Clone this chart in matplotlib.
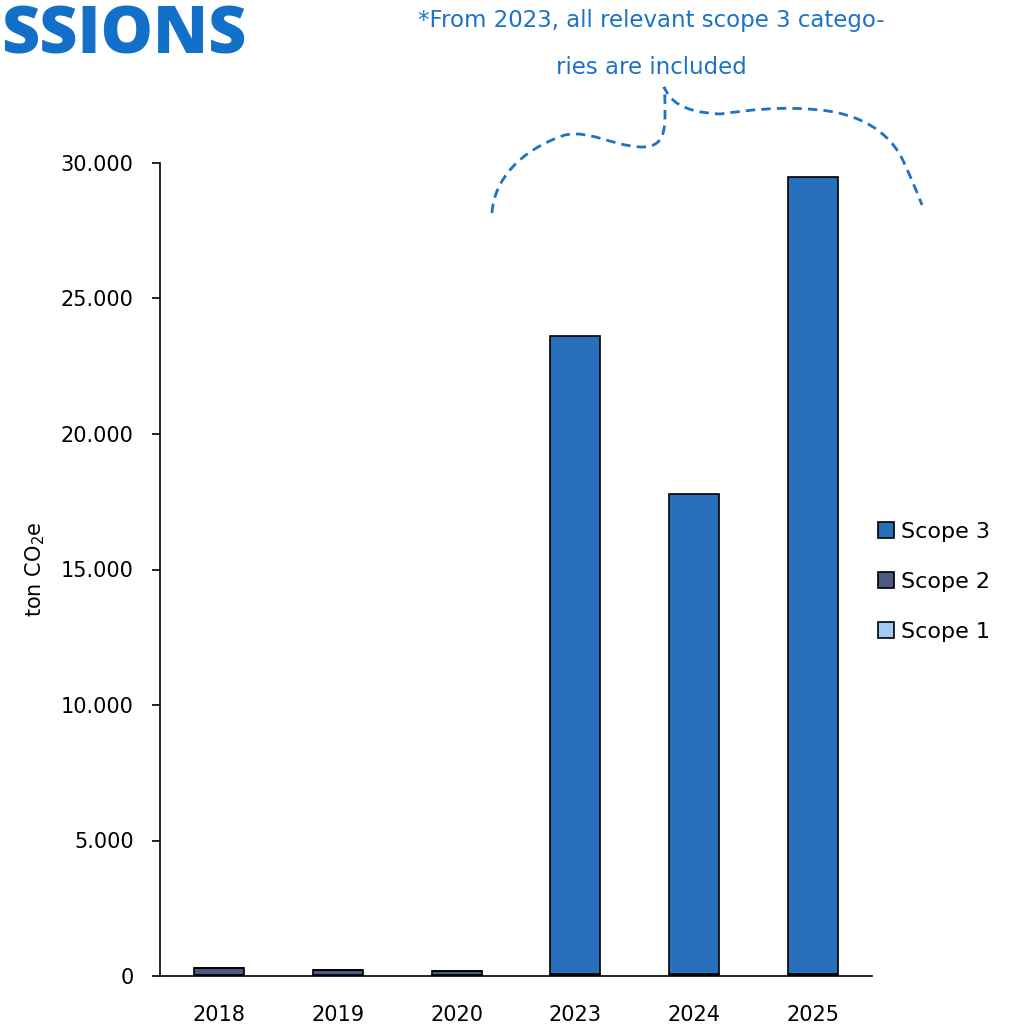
import matplotlib
matplotlib.use("Agg")
import matplotlib.pyplot as plt
from matplotlib.path import Path
from matplotlib.patches import PathPatch
from matplotlib.ticker import FuncFormatter
import numpy as np

plt.rcParams['font.family'] = ['DejaVu Sans']

# Emissions per year, tonnes CO2e
years = ["2018", "2019", "2020", "2023", "2024", "2025"]
scope1 = [40, 30, 20, 30, 30, 30]
scope2 = [240, 190, 150, 60, 60, 60]
scope3 = [0, 0, 0, 23510, 17710, 29410]

colors = {"Scope 1": "#9FCBF5", "Scope 2": "#4A5A80", "Scope 3": "#2870BB"}
accent = "#1A73C8"

W, H = 1014, 1026
fig = plt.figure(figsize=(W / 100, H / 100), dpi=100)
ax = fig.add_axes([160 / W, 1 - 976 / H, (872 - 160) / W, (976 - 163) / H])

x = np.arange(len(years))
bw = 0.42
s1 = np.array(scope1)
s2 = np.array(scope2)
s3 = np.array(scope3)
ax.bar(x, s1, bw, color=colors["Scope 1"], edgecolor="black", linewidth=1.2, label="Scope 1", zorder=3)
ax.bar(x, s2, bw, bottom=s1, color=colors["Scope 2"], edgecolor="black", linewidth=1.2, label="Scope 2", zorder=3)
ax.bar(x, s3, bw, bottom=s1 + s2, color=colors["Scope 3"], edgecolor="black", linewidth=1.2, label="Scope 3", zorder=3)

ax.set_xlim(-0.5, len(years) - 0.5)
ax.set_ylim(0, 30000)
ax.set_yticks(np.arange(0, 30001, 5000))
ax.yaxis.set_major_formatter(FuncFormatter(lambda v, p: f"{int(v):,}".replace(",", ".")))
ax.set_xticks(x)
ax.set_xticklabels(years)

for side in ("top", "right"):
    ax.spines[side].set_visible(False)
for side in ("left", "bottom"):
    ax.spines[side].set_color("black")
    ax.spines[side].set_linewidth(1.2)
ax.tick_params(axis="y", direction="out", length=6, width=1.2, pad=13, labelsize=15)
ax.tick_params(axis="x", length=0, pad=21, labelsize=15)

ax.set_ylabel(r"ton CO$\mathregular{_2}$e", fontsize=15, labelpad=10)

handles, labels = ax.get_legend_handles_labels()
fig.legend(handles[::-1], labels[::-1], loc="center left", bbox_to_anchor=(867 / W, 1 - 582 / H),
           frameon=False, fontsize=16, handlelength=0.72, handleheight=0.72,
           handletextpad=0.3, labelspacing=1.35, borderpad=0)

# Heading fragment and footnote
fig.text(1 / W, 1 - 36 / H, "SSIONS", fontsize=47.5, fontweight="heavy", color="#1270C8",
         ha="left", va="center", family=["Open Sans", "DejaVu Sans"])
fig.text(651 / W, 1 - 20 / H, "*From 2023, all relevant scope 3 catego-", fontsize=16.5,
         color=accent, ha="center", va="center")
fig.text(651 / W, 1 - 68 / H, "ries are included", fontsize=16.5, color=accent,
         ha="center", va="center")

# Dashed brace over the later years
pts = [
    (492, 213),
    (494, 180), (520, 150), (565, 135),
    (590, 130), (610, 145), (640, 147),
    (665, 148), (665, 130), (665, 110),
    (665, 100), (665, 92), (664, 87),
    (670, 100), (680, 112), (720, 114),
    (750, 110), (780, 106), (820, 110),
    (870, 115), (895, 140), (905, 165),
    (912, 180), (917, 192), (922, 205),
]
verts = [(px / W, 1 - py / H) for px, py in pts]
codes = [Path.MOVETO] + [Path.CURVE4] * (len(verts) - 1)
brace = PathPatch(Path(verts, codes), transform=fig.transFigure, fill=False,
                  edgecolor=accent, linewidth=2.0, linestyle=(0, (3.4, 2.2)))
fig.add_artist(brace)

fig.savefig("out.png", dpi=100)
